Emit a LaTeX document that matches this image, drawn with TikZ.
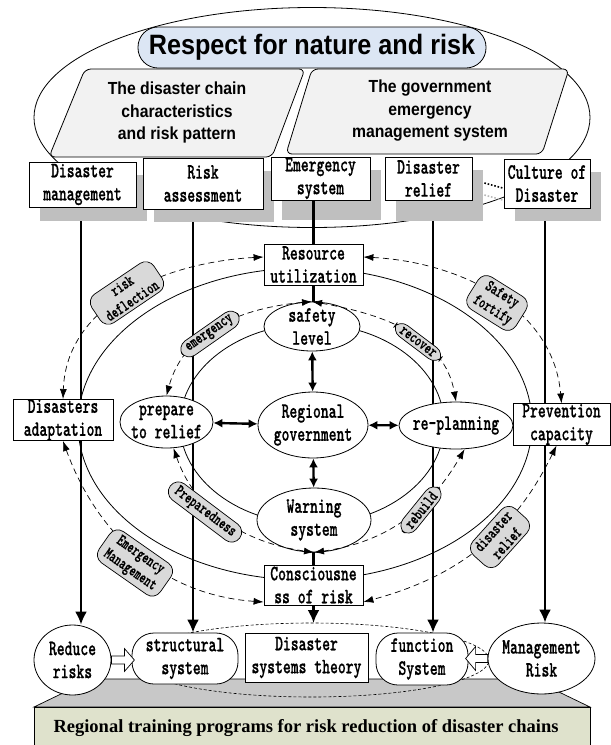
\documentclass[tikz,border=0pt]{standalone}
\usepackage{fontspec}
\usetikzlibrary{arrows.meta,shapes.geometric,calc}
\newfontfamily\sansB{Liberation Sans}[FakeStretch=0.9]
\newfontfamily\serifB{Liberation Serif}
\newfontfamily\boxfont{lmmonolt10-bold.otf}[FakeStretch=0.68,FakeBold=0.6]
\definecolor{titlefill}{HTML}{DCE6F4}
\definecolor{parafill}{HTML}{F2F2F2}
\definecolor{shadowgray}{HTML}{BFBFBF}
\definecolor{tagfill}{HTML}{D9D9D9}
\definecolor{platgray}{HTML}{C8C8C8}
\definecolor{frontfill}{HTML}{DFE2CC}
\pgfdeclarelayer{bg}
\pgfsetlayers{bg,main}
\begin{document}
\begin{tikzpicture}[x=1pt,y=1pt,
  box/.style={draw, fill=white, line width=0.8pt, inner sep=0pt, align=center,
    font=\boxfont\fontsize{22}{23}\selectfont},
  rbox/.style={box, rounded corners=22pt},
  ell/.style={ellipse, draw, fill=white, line width=0.8pt, inner xsep=-6pt, inner ysep=-6pt,
    align=center, font=\boxfont\fontsize{22}{23}\selectfont},
  thickline/.style={line width=2.4pt},
  thickarrow/.style={line width=2.4pt, -{Latex[length=13pt,width=12pt]}},
  dbl/.style={line width=2.4pt, {Latex[length=9pt,width=9pt]}-{Latex[length=9pt,width=9pt]}},
  dasharr/.style={line width=0.7pt, dash pattern=on 6pt off 4pt,
    {Latex[length=10pt,width=7pt]}-{Latex[length=10pt,width=7pt]}},
  tag/.style={draw, fill=tagfill, rounded corners=10pt, inner xsep=7pt, inner ysep=3pt,
    align=center, line width=0.7pt, font=\boxfont\fontsize{17}{18}\selectfont},
  hollow/.style={draw, fill=white, line width=0.7pt},
  parastyle/.style={fill=parafill, draw, line width=0.8pt, rounded corners=6pt},
  paratext/.style={align=center, font=\sansB\bfseries\fontsize{17.5}{22.5}\selectfont}
]
\useasboundingbox (0,0) rectangle (611,-745);

% outer ellipse
\draw[line width=0.8pt] (312,-117.5) ellipse [x radius=278pt, y radius=110pt];

% title
\node[draw, fill=titlefill, rounded corners=20pt, minimum width=348pt, minimum height=41pt,
  inner sep=0pt, line width=0.8pt, font=\sansB\bfseries\fontsize{28}{32}\selectfont]
  (title) at (312,-47.5) {Respect for nature and risk};

% parallelograms
\draw[parastyle] (85,-69) -- (305,-69) -- (272,-157) -- (49,-157) -- cycle;
\node[paratext] (pl) at (177,-112.5) {The disaster chain\\characteristics\\and risk pattern};
\draw[parastyle] (312,-69) -- (569,-69) -- (542,-154) -- (286,-154) -- cycle;
\node[paratext] (pr) at (430,-111) {The government\\emergency\\management system};

% solid ellipses
\draw[line width=0.8pt] (305,-424) ellipse [x radius=227pt, y radius=156pt];
\draw[line width=0.8pt] (312,-424) ellipse [x radius=132pt, y radius=100pt];

% platform
\draw[fill=platgray, line width=0.7pt] (34,-707) -- (92,-679) -- (532,-679) -- (590,-707) -- cycle;
\draw[fill=frontfill, line width=0.8pt] (34,-707) rectangle (590,-750);
\node[font=\serifB\bfseries\fontsize{18.5}{22}\selectfont] (F) at (306,-728)
  {Regional training programs for risk reduction of disaster chains};

% bottom dashed ellipse
\draw[line width=0.6pt, dash pattern=on 3pt off 2pt] (311,-660) ellipse [x radius=178pt, y radius=37pt];

% shadows
\fill[shadowgray] (40,-175) rectangle (147,-221);
\fill[shadowgray] (154,-171) rectangle (274,-222);
\fill[shadowgray] (282,-170) rectangle (381,-220);
\fill[shadowgray] (396,-170) rectangle (483,-221);
\fill[shadowgray] (515,-172) rectangle (601,-221);

% top row boxes
\node[box, minimum width=107pt, minimum height=45pt] (b1) at (82.5,-184.5) {Disaster\\management};
\node[box, minimum width=120pt, minimum height=51pt] (b2) at (203,-183.5) {Risk\\assessment};
\node[box, minimum width=99pt, minimum height=43pt] (b3) at (320.5,-178.5) {Emergency\\system};
\node[box, minimum width=87pt, minimum height=43pt] (b4) at (428.5,-178.5) {Disaster\\relief};
\node[box, minimum width=86pt, minimum height=49pt] (b5) at (547,-183.5) {Culture of\\Disaster};
\draw[line width=1.6pt, dash pattern=on 1.6pt off 1.8pt] ($(b4.east)+(12,-4.5)$) -- ($(b5.west)+(-1,-4.5)$);
\draw[gray!55, line width=1.6pt, dash pattern=on 1.6pt off 1.8pt] ($(b4.east)+(12,-16.5)$) -- ($(b5.west)+(-1,-16.5)$);

% middle nodes
\node[box, minimum width=99pt, minimum height=41pt] (R) at (313.5,-264.5) {Resource\\utilization};
\node[ell, minimum width=96pt, minimum height=49pt] (S) at (312,-326.5) {safety\\level};
\node[ell, minimum width=93pt, minimum height=52pt] (P) at (166.5,-422) {prepare\\to relief};
\node[ell, minimum width=110pt, minimum height=66pt] (G) at (313,-425) {Regional\\government};
\node[ell, minimum width=114pt, minimum height=47pt] (Q) at (456,-425.5) {re-planning};
\node[ell, minimum width=114pt, minimum height=64pt] (W) at (314,-520) {Warning\\system};
\node[box, minimum width=99pt, minimum height=40pt] (C) at (313.5,-585) {Consciousne\\ss of risk};
\node[box, minimum width=100pt, minimum height=40pt] (A) at (63,-420) {Disasters\\adaptation};
\node[box, minimum width=97pt, minimum height=41pt] (V) at (561.5,-424.5) {Prevention\\capacity};

% bottom nodes
\node[ell, minimum width=77pt, minimum height=70pt] (Rr) at (72.5,-660) {Reduce\\risks};
\node[rbox, minimum width=106pt, minimum height=51pt] (St) at (185,-658.5) {structural\\system};
\node[box, minimum width=123pt, minimum height=49pt] (T) at (306.5,-657.5) {Disaster\\systems theory};
\node[rbox, minimum width=92pt, minimum height=52pt] (Fs) at (422,-659) {function\\System};
\node[ell, minimum width=107pt, minimum height=71pt] (M) at (541.5,-658.5) {Management\\Risk};
\coordinate (Etop) at (313.5,-623);

% hollow arrows
\draw[hollow] ($(Rr.east)+(0,4)$) -- ++(13,0) -- ++(0,7.5) -- ++(10,-11.5) -- ++(-10,-11.5) -- ++(0,7.5) -- ++(-13,0) -- cycle;
\draw[hollow] ($(M.west)+(0,4)$) -- ++(-12,0) -- ++(0,8) -- ++(-10,-12) -- ++(10,-12) -- ++(0,8) -- ++(12,0) -- cycle;

% thick vertical lines (behind)
\coordinate (x1) at (81,0);
\coordinate (x2) at (193,0);
\coordinate (x4) at (433,0);
\coordinate (x5) at (545,0);
\begin{pgfonlayer}{bg}
\draw[thickarrow] (b1.south -| x1) -- (x1 |- Rr.north);
\draw[thickarrow] (b2.south -| x2) -- (x2 |- St.north);
\draw[thickarrow] (b4.south -| x4) -- (x4 |- Fs.north);
\draw[thickarrow] (b5.south -| x5) -- (x5 |- M.north);
\end{pgfonlayer}

% central spine
\draw[thickline] (b3.south -| R.north) -- (R.north);
\draw[thickline] (R.south) -- (R.south |- S.north);
\draw[dbl] (S) -- (G);
\draw[dbl] (G) -- (W);
\draw[dbl] (P) -- (G);
\draw[dbl] (G) -- (Q);
\draw[thickline] (C.north |- W.south) -- (C.north);
\draw[thickarrow] (C.south) -- (Etop);

% dashed arcs
\coordinate (Rw) at ($(R.west)+(0,7.5)$);
\coordinate (Re) at ($(R.east)+(0,7.5)$);
\coordinate (Cw) at ($(C.west)+(0,-17)$);
\coordinate (Ce) at ($(C.east)+(0,-17)$);
\coordinate (Vs) at ($(V.south)+(-5,0)$);
\draw[dasharr] (Rw) to[out=183,in=88] (A.north);
\draw[dasharr] (Re) to[out=-3,in=95] (V.north);
\draw[dasharr] (A.south) to[out=-70,in=176] (Cw);
\draw[dasharr] (Vs) to[out=-116,in=15] (Ce);
\draw[dasharr] (S.north) to[out=185,in=75] (P.north);
\draw[dasharr] (S.north) to[out=-10,in=100] (Q.north);
\draw[dasharr] (P.-75) to[out=-71,in=172] (W.south);
\draw[dasharr] (W.south) to[out=8,in=-120] (Q.-70);

% tags
\node[tag, rotate=34] (t1) at (127,-293) {risk\\deflection};
\node[tag, rotate=35] (t2) at (210,-334) {emergency};
\node[tag, rotate=-37] (t3) at (418,-342) {recover};
\node[tag, rotate=-32] (t4) at (497,-303) {Safety\\fortify};
\node[tag, rotate=-37] (t5) at (205,-512) {Preparedness};
\node[tag, rotate=-35] (t6) at (135,-563) {Emergency\\Management};
\node[tag, rotate=51] (t7) at (421,-510) {rebuild};
\node[tag, rotate=48] (t8) at (500,-537) {disaster\\relief};
\end{tikzpicture}
\end{document}
